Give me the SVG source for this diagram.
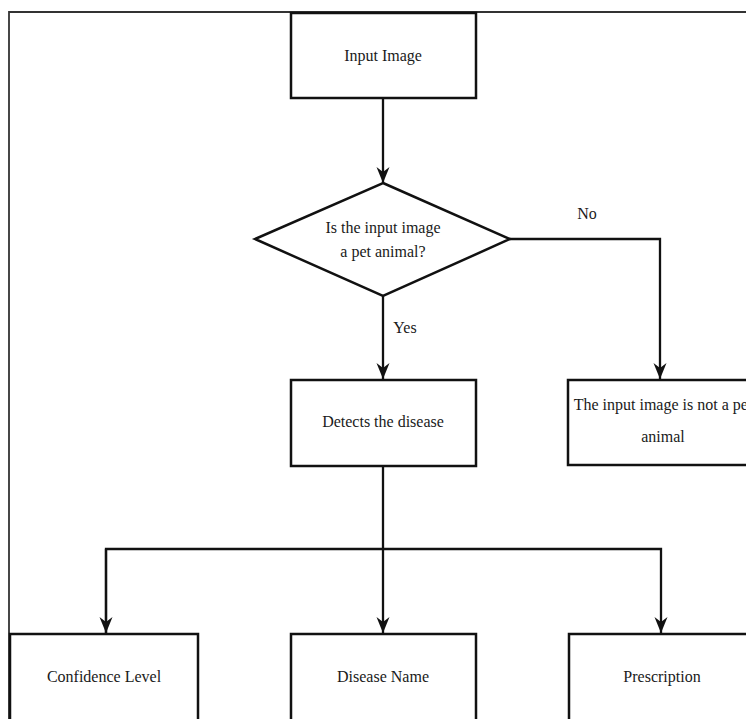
<svg xmlns="http://www.w3.org/2000/svg" width="746" height="719" viewBox="0 0 746 719">
<style>
.box{fill:#fff;stroke:#111;stroke-width:2.5}
.t{font-family:"Liberation Serif","Times New Roman",serif;font-size:16px;fill:#1a1a1a;text-anchor:middle}
.c{fill:none;stroke:#111;stroke-width:2.3}
</style>
<defs>
<marker id="arr" markerUnits="userSpaceOnUse" markerWidth="16" markerHeight="14" viewBox="0 0 16 14" refX="16" refY="7" orient="auto">
<path d="M0,0.5 L16,7 L0,13.5 L5,7 z" fill="#111"/>
</marker>
</defs>
<rect width="746" height="719" fill="#fff"/>
<path d="M9,719 V12 H746" fill="none" stroke="#333" stroke-width="1.8"/>
<g id="connectors">
<line class="c" x1="383" y1="98" x2="383" y2="183" marker-end="url(#arr)"/>
<line class="c" x1="383" y1="296" x2="383" y2="379" marker-end="url(#arr)"/>
<polyline class="c" points="510,239 660,239 660,379" marker-end="url(#arr)"/>
<line class="c" x1="383" y1="466" x2="383" y2="633" marker-end="url(#arr)"/>
<polyline class="c" points="106,633 106,549 661,549 661,633" marker-end="url(#arr)"/>
<line class="c" x1="106" y1="549" x2="106" y2="633" marker-end="url(#arr)"/>
<text class="t" x="587" y="219">No</text>
<text class="t" x="405" y="333">Yes</text>
</g>
<g id="input">
<rect class="box" x="291" y="13" width="185" height="85"/>
<text class="t" x="383" y="61">Input Image</text>
</g>
<g id="decision">
<polygon class="box" points="383,183 510,239 383,296 255,239"/>
<text class="t" x="383" y="233">Is the input image</text>
<text class="t" x="383" y="257">a pet animal?</text>
</g>
<g id="detects">
<rect class="box" x="291" y="380" width="185" height="86"/>
<text class="t" x="383" y="427">Detects the disease</text>
</g>
<g id="notpet">
<rect class="box" x="568" y="380" width="190" height="85"/>
<text class="t" x="663" y="410">The input image is not a pet</text>
<text class="t" x="663" y="442">animal</text>
</g>
<g id="confidence">
<rect class="box" x="10" y="634" width="188" height="100"/>
<text class="t" x="104" y="682">Confidence Level</text>
</g>
<g id="disease">
<rect class="box" x="291" y="634" width="185" height="100"/>
<text class="t" x="383" y="682">Disease Name</text>
</g>
<g id="prescription">
<rect class="box" x="569" y="634" width="190" height="100"/>
<text class="t" x="662" y="682">Prescription</text>
</g>
</svg>
